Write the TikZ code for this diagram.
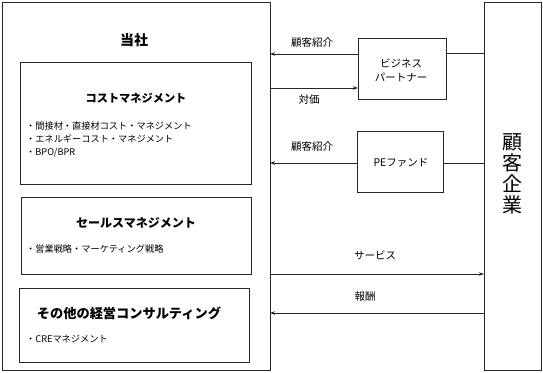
\documentclass[tikz,border=0pt]{standalone}
\usepackage{fontspec}
\setmainfont{Noto Sans CJK JP}
\usetikzlibrary{arrows.meta}
\begin{document}
\begin{tikzpicture}[x=1pt,y=-1pt,
  box/.style={draw=black!85,line width=0.9pt},
  arr/.style={draw=black!85,line width=0.9pt,-{Stealth[length=5pt,width=3.5pt]}},
  ln/.style={draw=black!85,line width=0.9pt},
  lbl/.style={font=\fontsize{10.5}{12}\selectfont,inner sep=0pt},
  bul/.style={font=\fontsize{9.2}{13}\selectfont,inner sep=0pt,anchor=west,align=left},
  ttl/.style={font=\bfseries\fontsize{12}{14}\selectfont,inner sep=0pt}]
\useasboundingbox (0,0) rectangle (543,372);
% main company
\node[box,minimum width=268,minimum height=368,anchor=north west,inner sep=0pt] (main) at (2,2) {};
\node[font=\bfseries\fontsize{14}{16}\selectfont,inner sep=0pt] (tosha) at (134,40) {当社};
% cost box
\node[box,minimum width=231,minimum height=122,anchor=north west,inner sep=0pt] (cost) at (20,62) {};
\node[ttl,font=\bfseries\fontsize{11.2}{14}\selectfont] (costt) at (136,98) {コストマネジメント};
\node[bul] (costb) at (26,139) {・間接材・直接材コスト・マネジメント\\・エネルギーコスト・マネジメント\\・BPO/BPR};
% sales box
\node[box,minimum width=230,minimum height=77,anchor=north west,inner sep=0pt] (sales) at (21,197) {};
\node[ttl] (salest) at (136,223) {セールスマネジメント};
\node[bul] (salesb) at (26,249) {・営業戦略・マーケティング戦略};
% other box
\node[box,minimum width=230,minimum height=74,anchor=north west,inner sep=0pt] (other) at (19,288) {};
\node[ttl,font=\bfseries\fontsize{13.2}{15}\selectfont] (othert) at (129,313) {その他の経営コンサルティング};
\node[bul] (otherb) at (26,339) {・CREマネジメント};
% customer
\node[box,minimum width=57,minimum height=368,anchor=north west,inner sep=0pt] (cust) at (484,2) {};
\node[font=\fontsize{20}{21}\selectfont,align=center,inner sep=0pt] (custt) at (512.5,174) {顧\\客\\企\\業};
% business partner
\node[box,minimum width=88,minimum height=61,anchor=north west,inner sep=0pt] (bp) at (358,38) {};
\node[lbl,align=center,font=\fontsize{10.5}{14}\selectfont] (bpt) at (401,70) {ビジネス\\パートナー};
% PE fund
\node[box,minimum width=86,minimum height=61,anchor=north west,inner sep=0pt] (pe) at (357,131) {};
\node[lbl] (pet) at (401,163) {PEファンド};
% connectors
\coordinate (m1) at (270,54);
\coordinate (m2) at (270,88);
\coordinate (m3) at (270,163);
\coordinate (m4) at (270,274);
\coordinate (m5) at (270,313);
\coordinate (c1) at (484,53);
\coordinate (c3) at (484,163);
\coordinate (c4) at (484,274);
\coordinate (c5) at (484,313);
\draw[arr] (bp.west |- m1) -- (m1);
\draw[arr] (m2) -- (bp.west |- m2);
\draw[ln] (bp.east |- c1) -- (c1);
\draw[arr] (pe.west |- m3) -- (m3);
\draw[ln] (pe.east |- c3) -- (c3);
\draw[arr] (m4) -- (c4);
\draw[arr] (c5) -- (m5);
% labels
\node[lbl] (l1) at (312,43) {顧客紹介};
\node[lbl] (l2) at (309,100) {対価};
\node[lbl] (l3) at (312,147) {顧客紹介};
\node[lbl] (l4) at (375,255) {サービス};
\node[lbl] (l5) at (365,297) {報酬};
\end{tikzpicture}
\end{document}
